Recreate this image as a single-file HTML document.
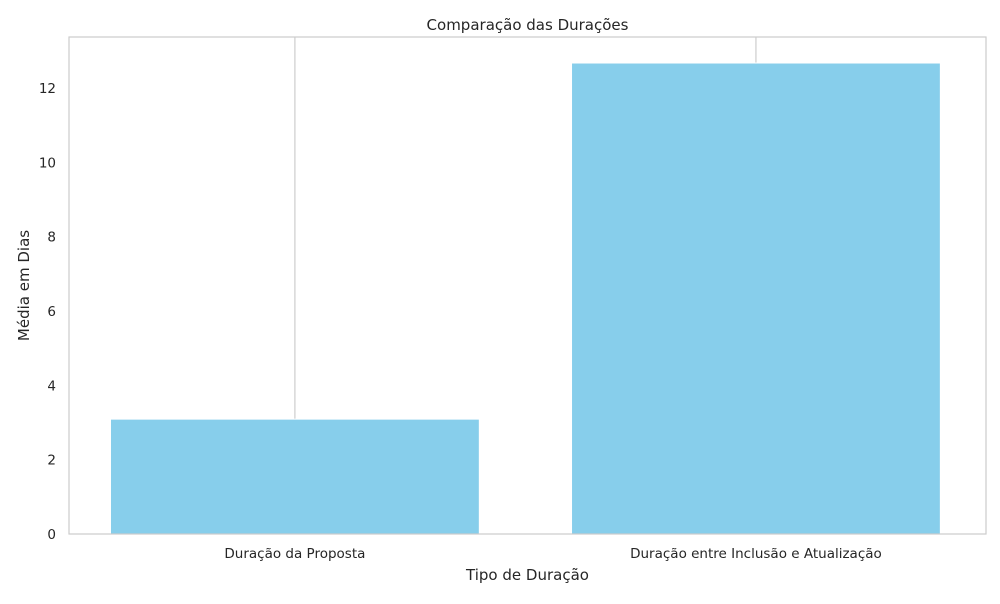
<!DOCTYPE html>
<html><head><meta charset="utf-8"><style>
body{margin:0;background:#fff;font-family:"DejaVu Sans","Liberation Sans",sans-serif;}
svg text{font-family:"DejaVu Sans","Liberation Sans",sans-serif;fill:#262626;}
</style></head><body>
<svg id="chart" width="1000" height="600"></svg>
<script>
const categories = ["Duração da Proposta", "Duração entre Inclusão e Atualização"];
const values = [3.09, 12.67];
const yTicks = [0, 2, 4, 6, 8, 10, 12];

const L = 69, R = 986, T = 37, B = 534;
const yMax = 13.37;
const xMin = -0.49, xMax = 1.499;
const y = v => B - v / yMax * (B - T);
const x = v => L + (v - xMin) / (xMax - xMin) * (R - L);
const bw = 0.8 * (R - L) / (xMax - xMin);
const svg = document.getElementById('chart');
const NS = 'http://www.w3.org/2000/svg';
function mk(tag, attrs, text) {
  const e = document.createElementNS(NS, tag);
  for (const k in attrs) e.setAttribute(k, attrs[k]);
  if (text !== undefined) e.textContent = text;
  svg.appendChild(e);
  return e;
}
categories.forEach((c, i) => {
  const g = mk('line', {x1: x(i), x2: x(i), y1: T, y2: B, stroke: '#cccccc', 'stroke-width': 1.2});
  
  
});
categories.forEach((c, i) => {
  const r = mk('rect', {x: x(i) - bw / 2, y: y(values[i]), width: bw, height: B - y(values[i]), fill: '#87ceeb', stroke: '#ffffff', 'stroke-width': 1});
  
  
  const t = mk('text', {x: x(i), y: B + 24, 'font-size': 13.5, 'text-anchor': 'middle'}, c);
  
  
});
yTicks.forEach(v => {
  const t = mk('text', {x: L - 13, y: y(v) + 5, 'font-size': 13.5, 'text-anchor': 'end'}, String(v));
  
  
});
const frame = mk('rect', {x: L, y: T, width: R - L, height: B - T, fill: 'none', stroke: '#cccccc', 'stroke-width': 1.2});


const title = mk('text', {x: (L + R) / 2, y: 30, 'font-size': 15, 'text-anchor': 'middle'}, 'Comparação das Durações');


const xt = mk('text', {x: (L + R) / 2, y: 580, 'font-size': 15, 'text-anchor': 'middle'}, 'Tipo de Duração');


const yt = mk('text', {x: 0, y: 0, 'font-size': 15, 'text-anchor': 'middle', transform: 'translate(29,' + (T + B) / 2 + ') rotate(-90)'}, 'Média em Dias');


</script>
</body></html>
